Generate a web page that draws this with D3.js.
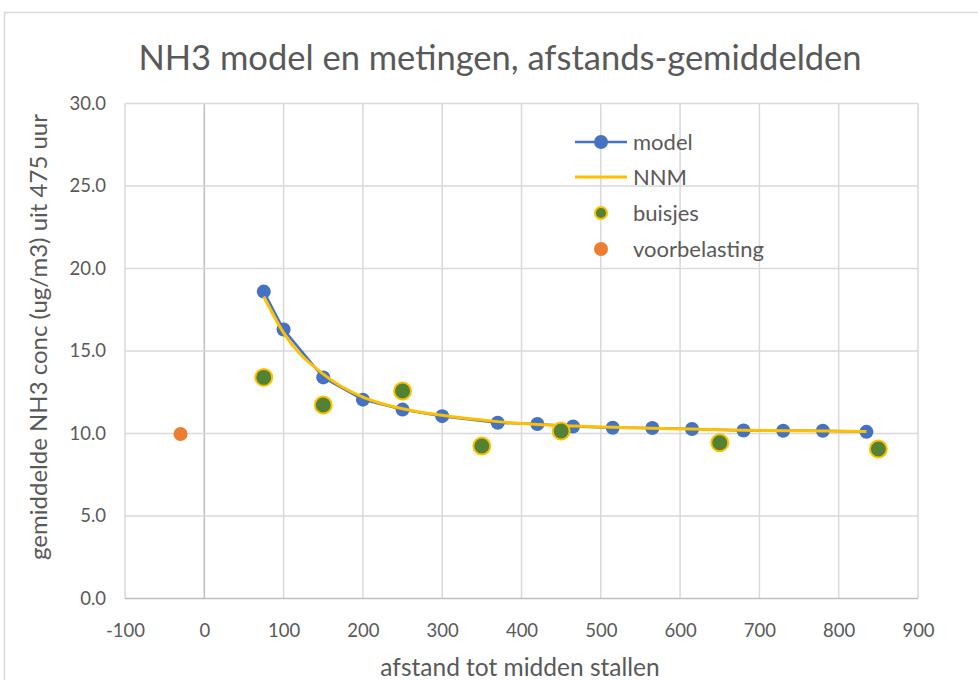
<!DOCTYPE html>
<html><head><meta charset="utf-8">
<script src="https://cdn.jsdelivr.net/npm/d3@7"></script>
<style>body{margin:0;background:#fff}svg{display:block}text{font-family:Lato,"Open Sans",sans-serif;fill:#595959}</style>
</head><body><svg id="c" width="978" height="680"></svg>
<script>
const modelX = [75,100,150,200,250,300,370,420,465,515,565,615,680,730,780,835];
const modelY = [18.6,16.3,13.4,12.05,11.45,11.05,10.65,10.58,10.42,10.35,10.33,10.27,10.18,10.17,10.17,10.1];
const nnmY   = [18.3,16.1,13.6,12.2,11.5,11.1,10.72,10.55,10.46,10.38,10.32,10.27,10.2,10.17,10.15,10.12];
const buisX  = [75,150,250,350,450,650,850];
const buisY  = [13.4,11.73,12.58,9.24,10.15,9.44,9.06];
const voorX  = [-30];
const voorY  = [9.97];
const xTicks = [-100,0,100,200,300,400,500,600,700,800,900];
const yTicks = [0,5,10,15,20,25,30];
const legendItems = ["model","NNM","buisjes","voorbelasting"];

const svg = d3.select("#c");
svg.append("rect").attr("x",4.5).attr("y",12.5).attr("width",990).attr("height",700)
  .attr("fill","#fff").attr("stroke","#d9d9d9").attr("stroke-width",1.5);

const x = d3.scaleLinear().domain([-100,900]).range([125,918]);
const y = d3.scaleLinear().domain([0,30]).range([598.5,103.5]);

const g = svg.append("g");
g.selectAll(".vg").data(xTicks).join("line")
  .attr("x1",d=>x(d)).attr("x2",d=>x(d)).attr("y1",y(0)).attr("y2",y(30))
  .attr("stroke",d=>d===0?"#bfbfbf":"#d9d9d9").attr("stroke-width",1.5);
g.selectAll(".hg").data(yTicks).join("line")
  .attr("x1",x(-100)).attr("x2",x(900)).attr("y1",d=>y(d)).attr("y2",d=>y(d))
  .attr("stroke",d=>d===0?"#bfbfbf":"#d9d9d9").attr("stroke-width",1.5);

const xa = svg.append("g").attr("transform",`translate(0,${y(0)})`)
  .call(d3.axisBottom(x).tickValues(xTicks).tickSize(0).tickPadding(25).tickFormat(d=>String(d)));
const ya = svg.append("g").attr("transform",`translate(${x(-100)},0)`)
  .call(d3.axisLeft(y).tickValues(yTicks).tickSize(0).tickPadding(19).tickFormat(d3.format(".1f")));
[xa,ya].forEach(a=>{a.select(".domain").remove();a.selectAll("text").attr("font-size",18.5).attr("fill","#595959").style("font-family","Lato, sans-serif");});

const idx = d3.range(modelX.length);
svg.append("path").attr("d",d3.line().x(i=>x(modelX[i])).y(i=>y(modelY[i]))(idx))
  .attr("fill","none").attr("stroke","#4472c4").attr("stroke-width",2.5);
svg.selectAll(".mp").data(idx).join("circle")
  .attr("cx",i=>x(modelX[i])).attr("cy",i=>y(modelY[i])).attr("r",7).attr("fill","#4472c4");
svg.append("path").attr("d",d3.line().curve(d3.curveMonotoneX).x(i=>x(modelX[i])).y(i=>y(nnmY[i]))(idx))
  .attr("fill","none").attr("stroke","#ffc000").attr("stroke-width",3);
svg.selectAll(".bp").data(d3.range(buisX.length)).join("circle")
  .attr("cx",i=>x(buisX[i])).attr("cy",i=>y(buisY[i])).attr("r",8.5)
  .attr("fill","#548235").attr("stroke","#ffc000").attr("stroke-width",2);
svg.selectAll(".vp").data(d3.range(voorX.length)).join("circle")
  .attr("cx",i=>x(voorX[i])).attr("cy",i=>y(voorY[i])).attr("r",7).attr("fill","#ed7d31");

const lg = svg.append("g");
const ly = [142,177,213,249];
lg.append("line").attr("x1",575).attr("x2",627).attr("y1",ly[0]).attr("y2",ly[0]).attr("stroke","#4472c4").attr("stroke-width",2.5);
lg.append("circle").attr("cx",601).attr("cy",ly[0]).attr("r",7).attr("fill","#4472c4");
lg.append("line").attr("x1",575).attr("x2",627).attr("y1",ly[1]).attr("y2",ly[1]).attr("stroke","#ffc000").attr("stroke-width",3);
lg.append("circle").attr("cx",601).attr("cy",ly[2]).attr("r",6).attr("fill","#548235").attr("stroke","#ffc000").attr("stroke-width",2);
lg.append("circle").attr("cx",601).attr("cy",ly[3]).attr("r",7).attr("fill","#ed7d31");
lg.selectAll("text").data(legendItems).join("text")
  .attr("x",633).attr("y",(d,i)=>ly[i]).attr("dy","0.35em").attr("font-size",22).text(d=>d);

svg.append("text").attr("x",500).attr("y",58).attr("dy","0.35em").attr("text-anchor","middle")
  .attr("font-size",34.5).text("NH3 model en metingen, afstands-gemiddelden");
svg.append("text").attr("x",520).attr("y",667).attr("dy","0.35em").attr("text-anchor","middle")
  .attr("font-size",24.5).text("afstand tot midden stallen");
svg.append("text").attr("transform","translate(39,337) rotate(-90)").attr("dy","0.35em").attr("text-anchor","middle")
  .attr("font-size",24).text("gemiddelde NH3 conc (ug/m3) uit 475 uur");
</script></body></html>
